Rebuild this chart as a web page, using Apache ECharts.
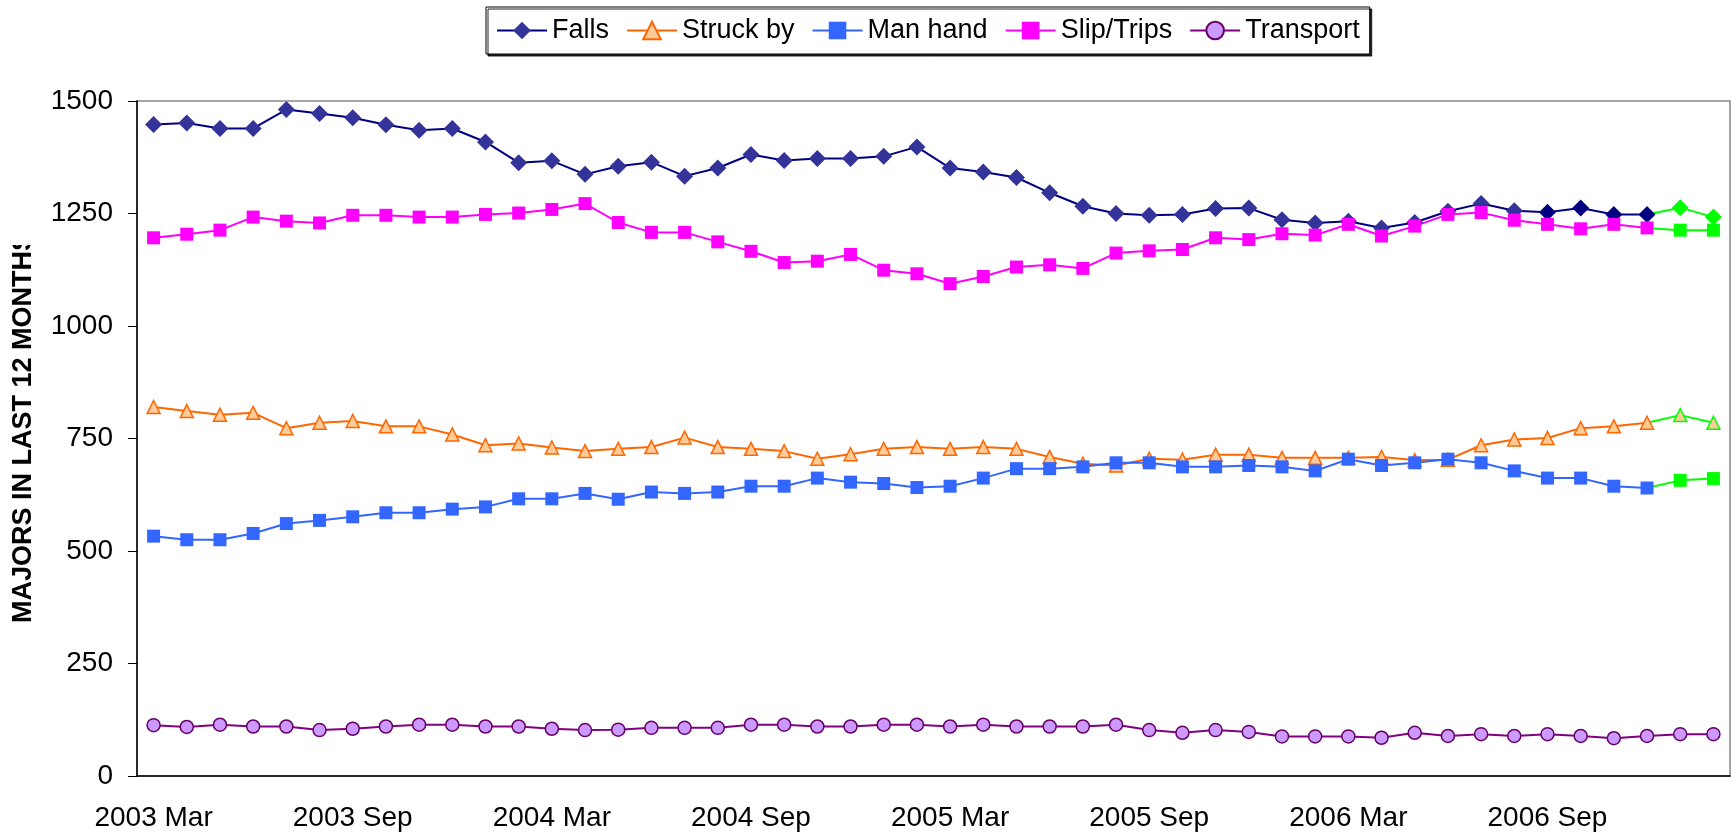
<!DOCTYPE html>
<html>
<head>
<meta charset="utf-8">
<script src="https://cdn.jsdelivr.net/npm/echarts@6/dist/echarts.min.js"></script>
<style>
html,body{margin:0;padding:0;background:#fff;}
#chart{width:1736px;height:835px;}
</style>
</head>
<body>
<div id="chart"></div>
<script>
var categories = [
  "2003 Mar","2003 Apr","2003 May","2003 Jun","2003 Jul","2003 Aug","2003 Sep","2003 Oct","2003 Nov","2003 Dec",
  "2004 Jan","2004 Feb","2004 Mar","2004 Apr","2004 May","2004 Jun","2004 Jul","2004 Aug","2004 Sep","2004 Oct",
  "2004 Nov","2004 Dec","2005 Jan","2005 Feb","2005 Mar","2005 Apr","2005 May","2005 Jun","2005 Jul","2005 Aug",
  "2005 Sep","2005 Oct","2005 Nov","2005 Dec","2006 Jan","2006 Feb","2006 Mar","2006 Apr","2006 May","2006 Jun",
  "2006 Jul","2006 Aug","2006 Sep","2006 Oct","2006 Nov","2006 Dec","2007 Jan","2007 Feb"
];
var falls = [1448,1451,1439,1439,1481,1472,1463,1447,1435,1439,1409,1363,1367,1337,
  1355,1364,1333,1351,1381,1368,1372,1372,1377,1398,1351,1342,1330,1296,1266,1250,1246,1248,
  1261,1262,1236,1229,1233,1218,1230,1255,1272,1256,1253,1262,1248,1248,1263,1242];
var struckBy = [820,811,803,807,773,785,789,777,777,759,735,739,730,722,
  727,731,752,731,727,722,705,715,727,731,727,731,727,709,694,690,705,703,
  714,714,707,707,707,709,702,703,735,748,751,773,777,785,802,785];
var manHand = [533,525,525,539,561,568,576,585,585,593,598,616,616,628,
  615,631,628,631,644,644,662,653,650,641,644,662,683,683,687,696,696,687,
  687,690,687,678,704,690,696,704,696,678,662,662,644,640,657,661];
var slipTrips = [1196,1204,1213,1242,1233,1229,1246,1246,1242,1242,1248,1251,1259,1272,
  1230,1208,1208,1187,1166,1141,1144,1159,1124,1116,1094,1110,1131,1136,1128,1162,1167,1170,
  1196,1192,1205,1202,1226,1200,1222,1248,1252,1235,1226,1216,1226,1218,1213,1213];
var transport = [113,109,114,110,110,102,105,110,114,114,110,110,105,102,
  103,107,107,107,114,114,110,110,114,114,110,114,110,110,110,114,102,96,
  102,98,88,88,88,85,96,89,93,89,93,89,84,89,93,93];
var yTicks = [0, 250, 500, 750, 1000, 1250, 1500];
var seriesNames = ["Falls", "Struck by", "Man hand", "Slip/Trips", "Transport"];

var FORECAST_START = 46; // first green (projected) point
var GREEN = '#00FF00';
var FONT = '"Liberation Sans", Arial, sans-serif';

function mainPart(arr, darkFrom, darkColor) {
  var out = [];
  for (var i = 0; i < FORECAST_START; i++) {
    if (darkFrom != null && i >= darkFrom) out.push({value: arr[i], itemStyle: {color: darkColor}});
    else out.push(arr[i]);
  }
  return out;
}
function forecastPart(arr) {
  var out = [];
  for (var i = 0; i < arr.length; i++) {
    if (i < FORECAST_START - 1) out.push(null);
    else if (i === FORECAST_START - 1) out.push({value: arr[i], symbol: 'none'});
    else out.push(arr[i]);
  }
  return out;
}

var series = [
  {name: seriesNames[0], type: 'line', data: mainPart(falls, 42, '#000080'), symbol: 'diamond', symbolSize: 17,
   lineStyle: {color: '#000080', width: 2}, itemStyle: {color: '#333399'}},
  {name: 'Falls (projected)', type: 'line', data: forecastPart(falls), symbol: 'diamond', symbolSize: 17,
   lineStyle: {color: GREEN, width: 2}, itemStyle: {color: GREEN}},
  {name: seriesNames[1], type: 'line', data: mainPart(struckBy), symbol: 'triangle', symbolSize: 13,
   lineStyle: {color: '#FF6600', width: 2}, itemStyle: {color: '#FFCC99', borderColor: '#FF6600', borderWidth: 1.5}},
  {name: 'Struck by (projected)', type: 'line', data: forecastPart(struckBy), symbol: 'triangle', symbolSize: 13,
   lineStyle: {color: GREEN, width: 2}, itemStyle: {color: '#FFCC99', borderColor: GREEN, borderWidth: 1.5}},
  {name: seriesNames[2], type: 'line', data: mainPart(manHand), symbol: 'rect', symbolSize: 13,
   lineStyle: {color: '#3366FF', width: 2}, itemStyle: {color: '#3366FF'}},
  {name: 'Man hand (projected)', type: 'line', data: forecastPart(manHand), symbol: 'rect', symbolSize: 13,
   lineStyle: {color: GREEN, width: 2}, itemStyle: {color: GREEN}},
  {name: seriesNames[3], type: 'line', data: mainPart(slipTrips), symbol: 'rect', symbolSize: 13,
   lineStyle: {color: '#FF00FF', width: 2}, itemStyle: {color: '#FF00FF'}},
  {name: 'Slip/Trips (projected)', type: 'line', data: forecastPart(slipTrips), symbol: 'rect', symbolSize: 13,
   lineStyle: {color: GREEN, width: 2}, itemStyle: {color: GREEN}},
  {name: seriesNames[4], type: 'line', data: transport, symbol: 'circle', symbolSize: 13,
   lineStyle: {color: '#800080', width: 2}, itemStyle: {color: '#CC99FF', borderColor: '#660066', borderWidth: 1.5}}
];
series.forEach(function (s) { s.showAllSymbol = true; s.animation = false; s.emphasis = {disabled: true}; });

var chart = echarts.init(document.getElementById('chart'), null, {renderer: 'canvas'});
chart.setOption({
  animation: false,
  backgroundColor: '#fff',
  textStyle: {fontFamily: FONT},
  grid: {left: 137, right: 6, top: 101, bottom: 59, show: true, borderColor: '#888', borderWidth: 1.5, backgroundColor: '#fff'},
  legend: {
    data: seriesNames,
    left: 486, top: 7,
    padding: [10, 10, 10, 10],
    itemGap: 17, itemWidth: 50, itemHeight: 22,
    backgroundColor: '#fff', borderColor: '#000', borderWidth: 1,
    shadowColor: 'rgba(0,0,0,0.85)', shadowOffsetX: 2, shadowOffsetY: 2, shadowBlur: 0,
    textStyle: {fontSize: 27, color: '#000', fontFamily: FONT},
    selectedMode: false
  },
  xAxis: {
    type: 'category', data: categories, boundaryGap: true,
    axisLine: {lineStyle: {color: '#000', width: 1.5}},
    axisTick: {interval: 5, length: 9, lineStyle: {color: '#000', width: 1}},
    axisLabel: {interval: 5, fontSize: 28, color: '#000', margin: 28, fontFamily: FONT},
    splitLine: {show: false}
  },
  yAxis: {
    type: 'value', min: yTicks[0], max: yTicks[yTicks.length - 1], interval: yTicks[1] - yTicks[0],
    axisLine: {show: true, lineStyle: {color: '#000', width: 1.5}},
    axisTick: {show: true, length: 9, lineStyle: {color: '#000', width: 1}},
    axisLabel: {fontSize: 28, color: '#000', margin: 24, fontFamily: FONT,
                formatter: function (v) { return String(v); }},
    splitLine: {show: false}
  },
  graphic: [
    {type: 'text', x: 24, y: 623, rotation: Math.PI / 2, z: 50,
     style: {text: 'MAJORS IN LAST 12 MONTHS', font: 'bold 27px ' + FONT, fill: '#000',
             align: 'left', verticalAlign: 'middle', textAlign: 'left', textVerticalAlign: 'middle'}},
    {type: 'rect', shape: {x: 0, y: 0, width: 42, height: 245}, style: {fill: '#fff'}, z: 60}
  ],
  series: series
});
</script>
</body>
</html>
